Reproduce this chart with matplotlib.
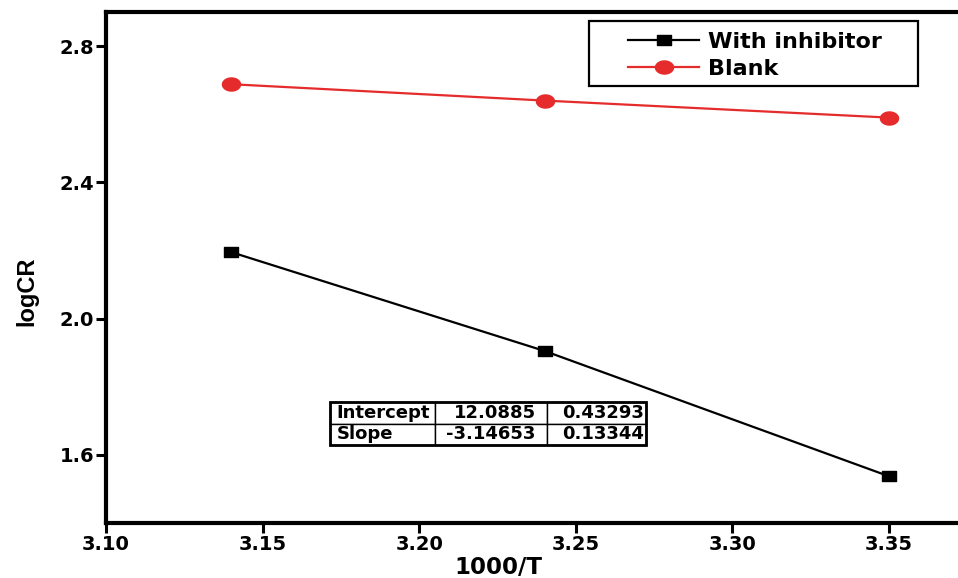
import matplotlib.pyplot as plt
from matplotlib.path import Path
from matplotlib.patches import Rectangle
import numpy as np

plt.rcParams['font.family'] = ['DejaVu Sans']
plt.rcParams['font.weight'] = 'bold'

# data
inv_T = [3.14, 3.24, 3.35]
log_cr_inhibitor = [2.195, 1.905, 1.537]
log_cr_blank = [2.688, 2.640, 2.590]
fit_rows = ['Intercept', 'Slope']
fit_values = [['12.0885', '0.43293'], ['-3.14653', '0.13344']]
x_ticks = [3.10, 3.15, 3.20, 3.25, 3.30, 3.35]
y_ticks = [1.6, 2.0, 2.4, 2.8]

W, H = 958, 578


def fx(px):
    return px / W


def fy(py):
    return 1 - py / H


# the source image is stretched sideways, so markers are slightly wide
t = np.linspace(0, 2 * np.pi, 40)
ellipse = Path(np.column_stack([1.38 * np.cos(t), np.sin(t)]), closed=True)
wide_sq = Path([(-1.4, -1), (1.4, -1), (1.4, 1), (-1.4, 1), (-1.4, -1)],
               closed=True)

fig = plt.figure(figsize=(W / 100, H / 100), dpi=100)
ax = fig.add_axes([fx(106), fy(523), fx(958 - 106), (523 - 12) / H])

ax.plot(inv_T, log_cr_inhibitor, color='black', lw=1.6, marker=wide_sq,
        ms=10.5, label='With inhibitor')
ax.plot(inv_T, log_cr_blank, color='#e52b2b', lw=1.6, marker=ellipse,
        ms=13, label='Blank')

ax.set_xlim(3.10, 3.372)
ax.set_ylim(1.4, 2.9)
ax.set_xticks(x_ticks)
ax.set_xticklabels(['%.2f' % v for v in x_ticks])
ax.set_yticks(y_ticks)
ax.set_yticklabels(['%.1f' % v for v in y_ticks])
ax.tick_params(direction='out', length=7, width=2.2, labelsize=14, pad=1.5)
for s in ['left', 'bottom', 'top']:
    ax.spines[s].set_linewidth(3)
ax.spines['right'].set_visible(False)

ax.set_xlabel('1000/T', fontsize=16.5, fontweight='bold')
ax.xaxis.set_label_coords((498 - 106) / 852, -(556 - 523) / 511)
ax.set_ylabel('logCR', fontsize=17, fontweight='bold',
              family='Liberation Sans')
ax.yaxis.set_label_coords(-(106 - 38) / 852, (523 - 291) / 511)

# legend box drawn by hand so its padding matches the reference
fig.patches.append(Rectangle((fx(589), fy(86)), fx(918 - 589), (86 - 21) / H,
                             transform=fig.transFigure, fill=False,
                             edgecolor='black', lw=1.6))
leg = ax.legend(loc='upper left', bbox_to_anchor=(fx(628), fy(32)),
                bbox_transform=fig.transFigure, fontsize=16, frameon=False,
                handlelength=3.2, borderpad=0, labelspacing=0.32,
                borderaxespad=0, handletextpad=0.4)

# fit table
cells = [[fit_rows[i]] + fit_values[i] for i in range(2)]
col_w = [105, 112, 99]
tab = ax.table(cellText=cells, cellLoc='right',
               bbox=[(330 - 106) / 852, (523 - 445) / 511, 316 / 852, 43 / 511],
               colWidths=col_w)
tab.auto_set_font_size(False)
pads = [0.06, 0.1, 0.025]
for (r, c), cell in tab.get_celld().items():
    cell.set_linewidth(1.0)
    cell.get_text().set_fontsize(13)
    cell.get_text().set_fontweight('bold')
    cell.PAD = pads[c]
    if c == 0:
        cell.get_text().set_ha('left')
        cell._loc = 'left'
ax.add_patch(Rectangle(((330 - 106) / 852, (523 - 445) / 511), 316 / 852,
                       43 / 511, transform=ax.transAxes, fill=False,
                       edgecolor='black', lw=2, zorder=10))

fig.savefig('out.png', dpi=100)
